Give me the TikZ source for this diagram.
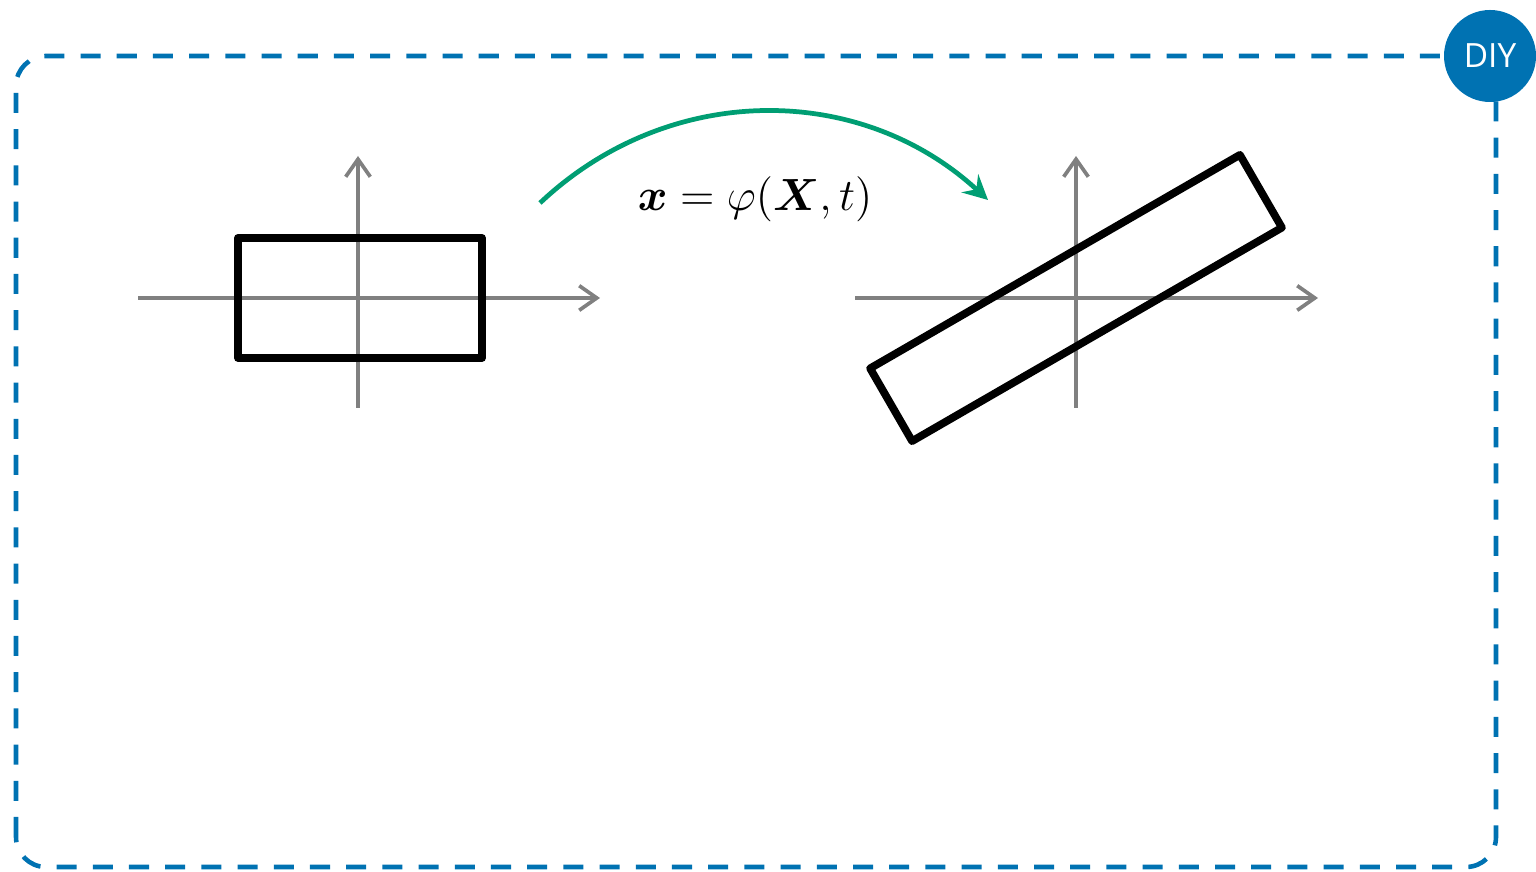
\documentclass[tikz,border=0pt]{standalone}
\usepackage{amsmath}
\usepackage{fontspec}
\newfontfamily\badgefont{Open Sans}
\usetikzlibrary{arrows.meta}
\definecolor{diyblue}{RGB}{0,114,178}
\definecolor{mapgreen}{RGB}{0,158,115}
\definecolor{axisgray}{RGB}{128,128,128}
\begin{document}
\begin{tikzpicture}[x=1cm,y=1cm,
  axis/.style={draw=axisgray,line width=1.05pt,-{Straight Barb[length=5pt,width=7pt]}},
  body/.style={draw=black,line width=2.2pt,line join=round},
  frame/.style={draw=diyblue,line width=1.3pt,dash pattern=on 5.7pt off 4.6pt,rounded corners=0.3cm},
  mapping/.style={draw=mapgreen,line width=1.35pt,-{Stealth[length=7pt,width=7pt,inset=2.5pt]}}]
\useasboundingbox (0,0) rectangle (15.36,8.72);
% DIY frame and badge
\draw[frame] (0.16,0.05) rectangle (14.96,8.16);
\node[circle,fill=diyblue,minimum size=0.92cm,inner sep=0pt,text=white,
  font=\badgefont\fontsize{9.5}{11}\selectfont] (diy) at (14.90,8.16) {DIY};
% reference configuration
\begin{scope}[xshift=3.58cm,yshift=5.74cm]
\draw[axis] (-2.20,0) -- (2.42,0);
\draw[axis] (0,-1.10) -- (0,1.42);
\draw[body] (-1.20,-0.60) rectangle (1.24,0.60);
\end{scope}
% current configuration
\begin{scope}[xshift=10.76cm,yshift=5.74cm]
\draw[axis] (-2.21,0) -- (2.42,0);
\draw[axis] (0,-1.10) -- (0,1.42);
\draw[body,rotate=30] (-2.135,-0.42) rectangle (2.135,0.42);
\end{scope}
% motion
\coordinate (mapstart) at (5.40,6.69);
\coordinate (mapend) at (9.88,6.72);
\draw[mapping] (mapstart) to[bend left=43] (mapend);
\node[anchor=base,font=\large,scale=1.07,transform shape] (map) at (7.55,6.61) {$\boldsymbol{x} = \varphi(\boldsymbol{X},t)$};
\end{tikzpicture}
\end{document}
